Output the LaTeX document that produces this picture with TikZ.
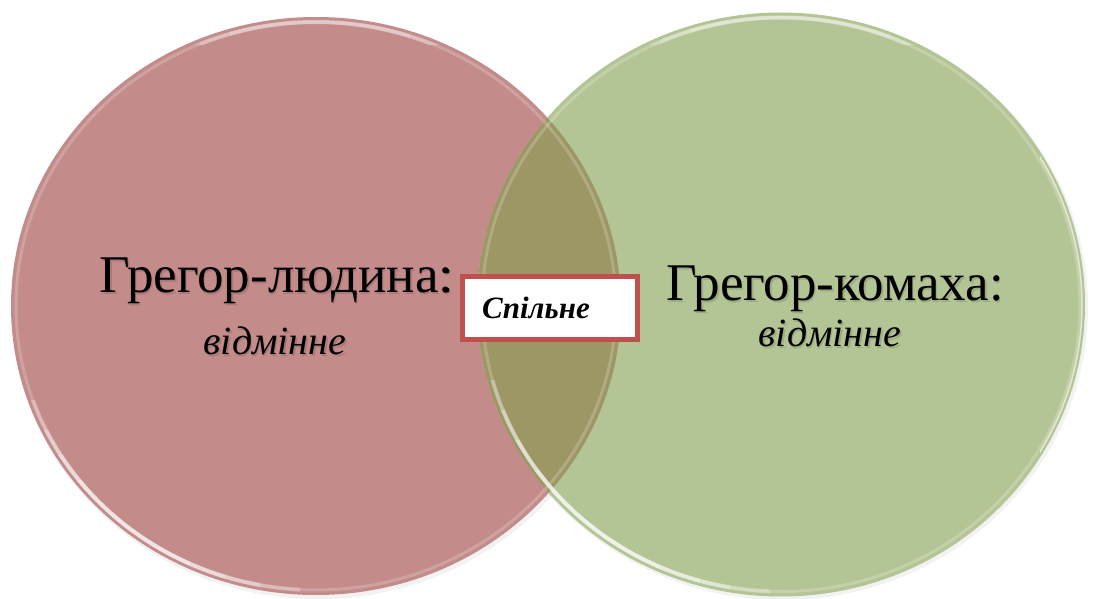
\documentclass[tikz,border=0pt]{standalone}
\usepackage{fontspec}
\setmainfont{Liberation Serif}
\definecolor{pinkfill}{RGB}{196,139,139}
\definecolor{greenfill}{RGB}{180,197,149}
\definecolor{mixfill}{RGB}{157,151,101}
\definecolor{boxred}{RGB}{192,80,77}
\tikzset{
  title/.style={anchor=base,inner sep=0pt,font=\fontsize{53}{60}\selectfont},
  sub/.style={anchor=base,inner sep=0pt,font=\fontsize{40}{46}\selectfont\itshape},
  shade/.style={text=black,opacity=0.13},
  rim/.style={draw=white,line width=3pt,opacity=0.2},
  gloss/.style={draw=white,line width=4pt,opacity=0.28},
  commonbox/.style={draw=boxred,line width=5pt,fill=white,minimum width=175pt,minimum height=63pt,inner sep=0pt},
  commontext/.style={anchor=base west,inner sep=0pt,font=\fontsize{31}{36}\selectfont\bfseries\itshape}
}
\begin{document}
\begin{tikzpicture}[x=1pt,y=-1pt]
\useasboundingbox (0,0) rectangle (1093,599);
% soft shadows
\fill[black,opacity=0.05] (318,309) ellipse [x radius=306pt, y radius=290pt];
\fill[black,opacity=0.05] (783,307) ellipse [x radius=305pt, y radius=293pt];
% circles
\fill[pinkfill] (316,306) ellipse [x radius=305pt, y radius=289pt];
\fill[greenfill] (781,304.5) ellipse [x radius=304pt, y radius=292pt];
\begin{scope}
  \clip (316,306) ellipse [x radius=305pt, y radius=289pt];
  \fill[mixfill] (781,304.5) ellipse [x radius=304pt, y radius=292pt];
\end{scope}
% glossy rims
\draw[rim] (316,306) ellipse [x radius=300pt, y radius=284pt];
\draw[rim] (781,304.5) ellipse [x radius=299pt, y radius=287pt];
% left circle, lower-left gloss (tapered by stacking)
\foreach \a/\b in {400/300, 430/260, 455/225, 480/190}{
  \begin{scope}
    \clip (0,\a) rectangle (\b,599);
    \draw[gloss] (316,306) ellipse [x radius=300pt, y radius=284pt];
  \end{scope}
}
% left circle, top gloss
\foreach \a/\b in {170/470, 200/440, 230/410}{
  \begin{scope}
    \clip (\a,0) rectangle (\b,45);
    \draw[gloss,opacity=0.18] (316,306) ellipse [x radius=300pt, y radius=284pt];
  \end{scope}
}
% right circle, lower-left gloss
\foreach \a/\b in {380/770, 410/730, 440/700, 470/660}{
  \begin{scope}
    \clip (470,\a) rectangle (\b,599);
    \draw[gloss] (781,304.5) ellipse [x radius=299pt, y radius=287pt];
  \end{scope}
}
% right circle, top gloss
\foreach \a/\b in {630/950, 660/920, 690/890}{
  \begin{scope}
    \clip (\a,0) rectangle (\b,45);
    \draw[gloss,opacity=0.2] (781,304.5) ellipse [x radius=299pt, y radius=287pt];
  \end{scope}
}
% right circle, right edge
\begin{scope}
  \clip (1040,130) rectangle (1093,500);
  \draw[white,line width=1.5pt,opacity=0.6] (781,304.5) ellipse [x radius=301pt, y radius=289pt];
\end{scope}
% texts
\node[title,shade] (ltitles) at (278,294) {Грегор-людина:};
\node[title] (ltitle) at (276.5,292) {Грегор-людина:};
\node[sub,shade] (lsubs) at (276.5,356) {відмінне};
\node[sub] (lsub) at (275,354) {відмінне};
\node[title,shade] (rtitles) at (836.5,302) {Грегор-комаха:};
\node[title] (rtitle) at (835,300) {Грегор-комаха:};
\node[sub,shade] (rsubs) at (831.5,348) {відмінне};
\node[sub] (rsub) at (830,346) {відмінне};
% common box
\node[commonbox] (common) at (550,308) {};
\node[commontext] (commontxt) at (482,318) {Спільне};
\coordinate (b1) at (447,271);
\coordinate (b2) at (447,290);
\fill[black] (b1) circle [radius=2.5pt];
\fill[black] (b2) circle [radius=2.5pt];
\end{tikzpicture}
\end{document}
